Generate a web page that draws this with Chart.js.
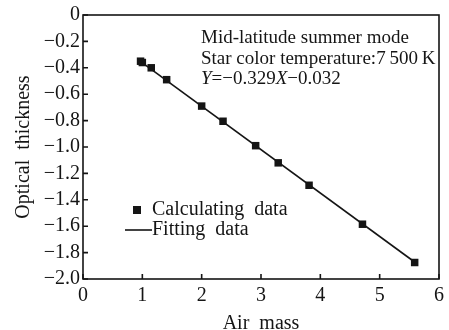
<!DOCTYPE html>
<html lang="en">
<head>
    <meta charset="UTF-8">
    <title>Optical thickness vs air mass</title>
    <style>
        body { margin: 0; padding: 0; background: #fff; }
        #wrap { width: 449px; height: 330px; }
    </style>
    <script src="https://cdn.jsdelivr.net/npm/chart.js"></script>
</head>
<body>
    <div id="wrap"><canvas id="graph" width="449" height="330"></canvas></div>
    <script>
        // values
        const airMass = [0.97, 1.0, 1.15, 1.41, 2.0, 2.36, 2.91, 3.29, 3.81, 4.71, 5.59];
        const opticalThickness = [-0.35, -0.36, -0.40, -0.49, -0.69, -0.805, -0.99, -1.12, -1.29, -1.585, -1.875];
        // end points of the fitted line
        const fitX = [0.95, 5.6];
        const fitY = [-0.345, -1.875];
        const xTicks = [0, 1, 2, 3, 4, 5, 6];
        const yTicks = [0, -0.2, -0.4, -0.6, -0.8, -1.0, -1.2, -1.4, -1.6, -1.8, -2.0];
        const noteLines = ['Mid-latitude summer mode', 'Star color temperature:7\u2009500\u2009K'];

        const serif = '"Liberation Serif", "DejaVu Serif", serif';
        const ink = '#151515';

        // frame, inward ticks, legend and note
        const extras = {
            id: 'extras',
            afterDraw(chart) {
                const ctx = chart.ctx;
                const a = chart.chartArea;
                const xs = chart.scales.x, ys = chart.scales.y;
                ctx.save();
                ctx.strokeStyle = ink;
                ctx.lineWidth = 1.6;
                ctx.strokeRect(a.left, a.top, a.right - a.left, a.bottom - a.top);
                ctx.beginPath();
                xTicks.forEach(v => {
                    const px = xs.getPixelForValue(v);
                    ctx.moveTo(px, a.bottom);
                    ctx.lineTo(px, a.bottom - 5);
                });
                yTicks.forEach(v => {
                    const py = ys.getPixelForValue(v);
                    ctx.moveTo(a.left, py);
                    ctx.lineTo(a.left + 5, py);
                });
                ctx.stroke();

                // legend
                ctx.fillStyle = ink;
                ctx.fillRect(133, 206, 8, 8);
                ctx.lineWidth = 1.6;
                ctx.beginPath();
                ctx.moveTo(125, 230);
                ctx.lineTo(152, 230);
                ctx.stroke();
                ctx.font = '20px ' + serif;
                ctx.textBaseline = 'middle';
                ctx.fillText('Calculating  data', 152, 210);
                ctx.fillText('Fitting  data', 152, 230);

                // note
                ctx.font = '19px ' + serif;
                ctx.fillText(noteLines[0], 201, 38);
                ctx.fillText(noteLines[1], 201, 59);
                ctx.font = 'italic 19px ' + serif;
                ctx.fillText('Y', 201, 79);
                let w = ctx.measureText('Y').width;
                ctx.font = '19px ' + serif;
                ctx.fillText('=\u22120.329', 201 + w, 79);
                w += ctx.measureText('=\u22120.329').width;
                ctx.font = 'italic 19px ' + serif;
                ctx.fillText('X', 201 + w, 79);
                w += ctx.measureText('X').width;
                ctx.font = '19px ' + serif;
                ctx.fillText('\u22120.032', 201 + w, 79);
                ctx.restore();
            }
        };

        new Chart(document.getElementById('graph').getContext('2d'), {
            type: 'scatter',
            data: {
                datasets: [
                    {
                        label: 'Fitting data',
                        type: 'line',
                        data: fitX.map((x, i) => ({ x: x, y: fitY[i] })),
                        borderColor: ink,
                        borderWidth: 1.6,
                        pointRadius: 0,
                        fill: false
                    },
                    {
                        label: 'Calculating data',
                        data: airMass.map((x, i) => ({ x: x, y: opticalThickness[i] })),
                        pointStyle: 'rect',
                        pointRadius: 5.3,
                        backgroundColor: ink,
                        borderColor: ink,
                        borderWidth: 0
                    }
                ]
            },
            options: {
                responsive: false,
                animation: false,
                layout: { padding: { top: 14, right: 6, left: 12, bottom: 0 } },
                plugins: { legend: { display: false }, tooltip: { enabled: false } },
                scales: {
                    x: {
                        type: 'linear',
                        min: 0, max: 6,
                        afterBuildTicks: s => { s.ticks = xTicks.map(v => ({ value: v })); },
                        afterFit: s => { s.height = 51; },
                        grid: { display: false, drawTicks: false },
                        border: { display: false },
                        ticks: { color: ink, padding: 5, autoSkip: false, font: { family: serif, size: 20 }, maxRotation: 0 },
                        title: { display: true, text: 'Air  mass', color: ink, padding: { top: 8, bottom: -6 }, font: { family: serif, size: 20 } }
                    },
                    y: {
                        type: 'linear',
                        min: -2, max: 0,
                        afterBuildTicks: s => { s.ticks = yTicks.map(v => ({ value: v })); },
                        afterFit: s => { s.width = 71; },
                        grid: { display: false, drawTicks: false },
                        border: { display: false },
                        ticks: {
                            color: ink, padding: 3, autoSkip: false, font: { family: serif, size: 20 },
                            callback: v => v === 0 ? '0' : '\u2212' + Math.abs(v).toFixed(1)
                        },
                        title: { display: true, text: 'Optical  thickness', color: ink, padding: { top: 0, bottom: 0 }, font: { family: serif, size: 20 } }
                    }
                }
            },
            plugins: [extras]
        });
    </script>
</body>
</html>
